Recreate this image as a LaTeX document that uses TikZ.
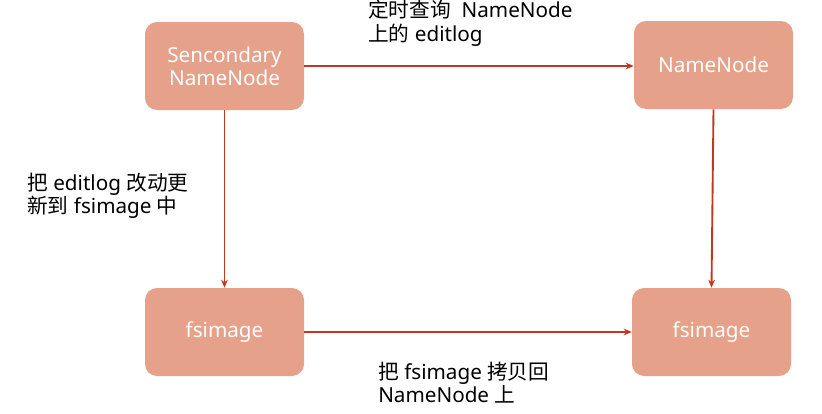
\documentclass[tikz,border=0pt]{standalone}
\usepackage{fontspec}
\setmainfont{Noto Sans}
\newfontfamily\cjk{Noto Sans CJK SC}
\usetikzlibrary{arrows.meta}
\definecolor{boxfill}{HTML}{E5A189}
\definecolor{arrowred}{HTML}{C0391F}
\newcommand{\zh}[1]{{\cjk #1}}
\begin{document}
\begin{tikzpicture}[x=0.75pt,y=-0.75pt,
  box/.style={fill=boxfill,rounded corners=9pt,minimum width=119.25pt,minimum height=66pt,inner sep=0pt,text=white,font=\fontsize{15.5}{17.5}\selectfont,align=center},
  conn/.style={draw=arrowred,line width=1.4pt,-{Stealth[length=6pt,width=5pt]}},
  lbl/.style={font=\fontsize{15.5}{17.5}\selectfont,align=left,inner sep=0pt,anchor=north west}]
\useasboundingbox (0,0) rectangle (822,414);
\node[box] (snn) at (224.5,66) {Sencondary\\NameNode};
\node[box] (nn) at (713.5,65) {NameNode};
\node[box] (fs1) at (224.5,332) {fsimage};
\node[box] (fs2) at (711.5,332) {fsimage};
\draw[conn] (snn.east) -- (snn.east -| nn.west);
\draw[conn] (snn.south) -- (fs1.north);
\draw[conn] (nn.south) -- (fs2.north);
\draw[conn] (fs1.east) -- (fs1.east -| fs2.west);
\node[lbl] (l1) at (368,0) {\zh{定时查询}\ \ NameNode\\\zh{上的} editlog};
\node[lbl] (l2) at (27,173) {\zh{把} editlog \zh{改动更}\\\zh{新到} fsimage \zh{中}};
\node[lbl] (l3) at (378,362) {\zh{把} fsimage \zh{拷贝回}\\NameNode \zh{上}};
\end{tikzpicture}
\end{document}
